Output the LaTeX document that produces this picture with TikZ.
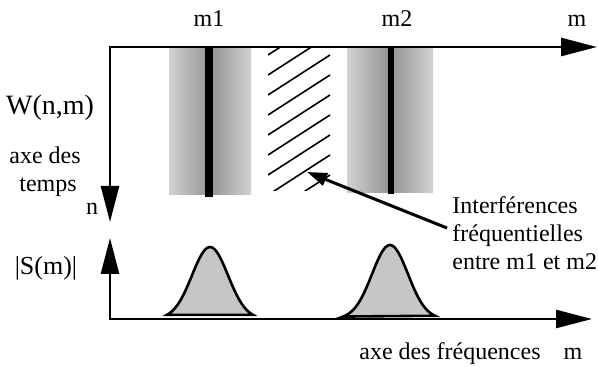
\documentclass[tikz,border=0pt]{standalone}
\usepackage{fontspec}
\setmainfont{Liberation Serif}
\usetikzlibrary{arrows.meta}

\begin{document}
\begin{tikzpicture}[x=0.5pt, y=-0.5pt, line join=miter, >={Triangle[length=18pt, width=9pt]},
    every node/.style={font=\fontsize{12}{14}\selectfont, inner sep=0pt},
    axis/.style={line width=1.3pt},
    band/.style={left color=gray!35, right color=gray!35, middle color=gray!85},
    bump/.style={fill=gray!45, draw=black, line width=1.3pt}]

  \useasboundingbox (0,0) rectangle (598,367);

  % ================= haut : W(n,m) =================
  \coordinate (O) at (110,47);
  \coordinate (mEnd) at (597,47);
  \coordinate (nEnd) at (110,222);

  % bandes autour de m1 et m2
  \shade[band] (169,47) rectangle (251,195);
  \fill (205,47) rectangle (213,197);
  \shade[band] (347,47) rectangle (433,193);
  \fill (388,47) rectangle (394,194);

  % zone hachuree entre les deux
  \begin{scope}
    \clip (268,47) rectangle (332,191);
    \foreach \k in {0,...,8}
      \draw[line width=0.8pt] (268,55+20*\k) -- ++(62,-40);
  \end{scope}
  \coordinate (hatchTip) at (307,172);

  \draw[axis, <->] (nEnd) -- (O) -- (mEnd);

  \node[anchor=base] (m1) at (209,27) {m1};
  \node[anchor=base] (m2) at (397,27) {m2};
  \node[anchor=base] (mTop) at (577,27) {m};
  \node[anchor=base, font=\fontsize{14}{16}\selectfont] (W) at (50,115) {W(n,m)};
  \node[anchor=base] (axeT1) at (45,164) {axe des};
  \node[anchor=base] (axeT2) at (48,192) {temps};
  \node[anchor=base] (n) at (92,215) {n};

  % ================= bas : |S(m)| =================
  \coordinate (F) at (110,319);
  \coordinate (SEnd) at (110,238);
  \coordinate (fEnd) at (592,319);

  % spectre : deux raies elargies, sigma = 18
  \filldraw[bump, domain=167:253, smooth, samples=40, variable=\x] plot ({\x}, {319-72*exp(-(\x-210)*(\x-210)/648)}) -- cycle;
  \filldraw[bump, domain=343:435, smooth, samples=40, variable=\x] plot ({\x}, {319-74*exp(-(\x-390)*(\x-390)/648)}) -- cycle;

  \draw[axis, <->] (SEnd) -- (F) -- (fEnd);

  \node[anchor=base, font=\fontsize{13}{15}\selectfont] (S) at (46,275) {|S(m)|};
  \node[anchor=base] (axeF) at (450,359) {axe des fréquences};
  \node[anchor=base] (mBot) at (573,359) {m};

  % legende
  \node[anchor=north west, align=left] (note) at (452,196) {Interférences\\fréquentielles\\entre m1 et m2};
  \draw[line width=1.5pt, -{Triangle[length=10pt, width=6.5pt]}] ([shift={(-5,32)}]note.north west) -- (hatchTip);

\end{tikzpicture}
\end{document}
